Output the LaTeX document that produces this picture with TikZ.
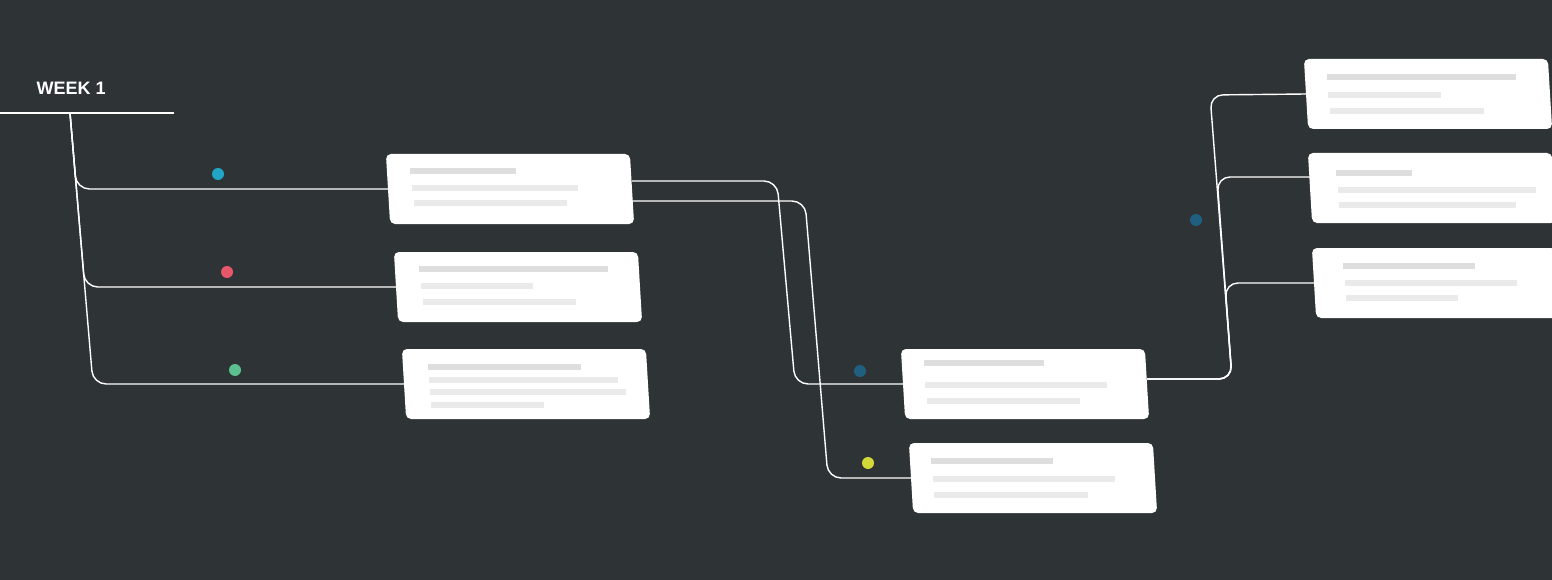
\documentclass[tikz,border=0pt]{standalone}
\usepackage{fontspec}
\setmainfont{Liberation Sans}
\usetikzlibrary{positioning,calc}
\definecolor{bgdark}{RGB}{46,52,54}
\definecolor{barA}{RGB}{222,222,222}
\definecolor{barB}{RGB}{234,234,234}
\definecolor{dotcyan}{RGB}{34,166,199}
\definecolor{dotred}{RGB}{232,86,106}
\definecolor{dotgreen}{RGB}{91,191,143}
\definecolor{dotblue}{RGB}{31,95,128}
\definecolor{dotyellow}{RGB}{212,217,58}
\tikzset{card/.style={rectangle, rounded corners=5pt, fill=white, minimum width=244pt,
                      minimum height=70pt, inner sep=0pt, transform shape, xslant=-0.06},
         wire/.style={draw=white, line width=1.4pt, rounded corners=13pt},
         dot/.style={circle, inner sep=0pt, minimum size=12pt},
         bar/.style={line width=6pt}}
\begin{document}
\begin{tikzpicture}[x=1pt,y=-1pt]
\fill[bgdark] (0,0) rectangle (1552,580);
\clip (0,0) rectangle (1552,580);

% title
\node (wk) [text=white, anchor=west, font=\fontsize{18}{20}\selectfont\bfseries] at (33,88) {WEEK 1};
\coordinate (wkL) at (0,113);
\coordinate (wkR) at (174,113);
\coordinate (wkT) at (70,113);
\draw[wire] (wkL) -- (wkR);

% cards
\node (c1) [card] at (510,189) {};
\node (c2) [card] at (518,287) {};
\node (c3) [card] at (526,384) {};
\node (c4) [card] at (1025,384) {};
\node (c5) [card] at (1033,478) {};
\node (c6) [card] at (1428,94) {};
\node (c7) [card] at (1432,188) {};
\node (c8) [card] at (1436,283) {};

% placeholder bars
\foreach \xa/\xb/\yy in {410/516/171, 419/608/269, 428/581/367, 924/1044/363,
                         931/1053/461, 1327/1516/77, 1336/1412/173, 1343/1475/266}
  \draw[bar, barA] (\xa,\yy) -- (\xb,\yy);
\foreach \xa/\xb/\yy in {412/578/188, 414/567/203, 421/533/286, 423/576/302,
                         429/618/380, 430/626/392, 431/544/405,
                         925/1107/385, 927/1080/401, 933/1115/479, 934/1088/495,
                         1328/1441/95, 1330/1484/111, 1338/1536/190, 1339/1516/205,
                         1345/1517/283, 1346/1458/298}
  \draw[bar, barB] (\xa,\yy) -- (\xb,\yy);

% left tree
\coordinate (t1) at (76.4,189);
\coordinate (t2) at (84.8,287);
\coordinate (t3) at (93,384);
\draw[wire] (wkT) -- (t1) -- (c1.west);
\draw[wire] (wkT) -- (t2) -- (c2.west);
\draw[wire] (wkT) -- (t3) -- (c3.west);

% middle
\coordinate (m1) at (777,181);
\coordinate (m2) at (795,384);
\coordinate (m3) at (805,201);
\coordinate (m4) at (828,478);
\draw[wire] ([yshift=8pt]c1.east) -- (m1) -- (m2) -- (c4.west);
\draw[wire] ([yshift=-12pt]c1.east) -- (m3) -- (m4) -- (c5.west);

% right tree
\coordinate (r0) at (1232,379);
\coordinate (r6) at (1210,95);
\coordinate (r7) at (1217,177);
\coordinate (r8) at (1225,283);
\draw[wire] ([yshift=5pt]c4.east) -- (r0) -- (r6) -- (c6.west);
\draw[wire] ([yshift=5pt]c4.east) -- (r0) -- (r7) -- ([yshift=11pt]c7.west);
\draw[wire] ([yshift=5pt]c4.east) -- (r0) -- (r8) -- (c8.west);

% dots
\node (d1) [dot, fill=dotcyan] at (218,174) {};
\node (d2) [dot, fill=dotred] at (227,272) {};
\node (d3) [dot, fill=dotgreen] at (235,370) {};
\node (d4) [dot, fill=dotblue] at (860,371) {};
\node (d5) [dot, fill=dotyellow] at (868,463) {};
\node (d6) [dot, fill=dotblue] at (1196,220) {};
\end{tikzpicture}
\end{document}
